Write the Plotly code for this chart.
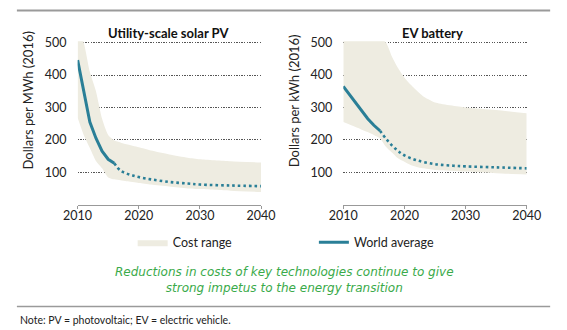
import plotly.graph_objects as go

# ---- Data ----
years_band_pv = [2010, 2011, 2012, 2013, 2014, 2015, 2016, 2017, 2018, 2020, 2022, 2025, 2028, 2030, 2035, 2040]
pv_upper = [540, 500, 410, 350, 265, 215, 198, 192, 186, 177, 167, 155, 145, 140, 134, 130]
pv_lower = [268, 215, 175, 135, 112, 84, 78, 75, 72, 67, 62, 56, 50, 48, 43, 39]

years_hist = [2010, 2011, 2012, 2013, 2014, 2015, 2016]
pv_hist = [446, 345, 255, 205, 165, 140, 128]
years_proj = [2016, 2017, 2018, 2019, 2020, 2022, 2025, 2028, 2030, 2035, 2040]
pv_proj = [128, 105, 96, 90, 85, 78, 70, 65, 62, 59, 57]

years_band_ev = [2010, 2012, 2014, 2015, 2016, 2017, 2018, 2019, 2020, 2021, 2022, 2023, 2025, 2030, 2035, 2040]
ev_upper = [520, 520, 520, 520, 515, 500, 455, 420, 392, 371, 352, 335, 315, 300, 292, 282]
ev_lower = [255, 240, 224, 215, 205, 178, 160, 142, 132, 122, 116, 112, 107, 102, 97, 93]

ev_hist = [365, 340, 315, 290, 265, 245, 228]
ev_proj = [228, 203, 182, 165, 152, 137, 125, 120, 118, 115, 112]

x_ticks = [2010, 2020, 2030, 2040]
y_ticks = [100, 200, 300, 400, 500]

BAND = "#EEECE1"
TEAL = "#2A7F97"
FONT = "Lato"

fig = go.Figure()

def add_panel(xa, ya, yb, lower, upper, hist, proj, show):
    fig.add_trace(go.Scatter(x=yb, y=lower, mode="lines",
                             line=dict(width=0, color=BAND, shape="spline", smoothing=0.6),
                             showlegend=False, hoverinfo="skip", xaxis=xa, yaxis=ya))
    fig.add_trace(go.Scatter(x=yb, y=upper, mode="lines",
                             line=dict(width=0, color=BAND, shape="spline", smoothing=0.6),
                             fill="tonexty", fillcolor=BAND, name="Cost range",
                             showlegend=show, legend="legend", xaxis=xa, yaxis=ya))
    fig.add_trace(go.Scatter(x=years_hist, y=hist, mode="lines", line=dict(width=3, color=TEAL),
                             name="World average", showlegend=show, legend="legend2",
                             xaxis=xa, yaxis=ya))
    fig.add_trace(go.Scatter(x=years_proj, y=proj, mode="lines",
                             line=dict(width=2.6, color=TEAL, dash="2.6px,3px", shape="spline"),
                             showlegend=False, xaxis=xa, yaxis=ya))

add_panel("x", "y", years_band_pv, pv_lower, pv_upper, pv_hist, pv_proj, True)
add_panel("x2", "y2", years_band_ev, ev_lower, ev_upper, ev_hist, ev_proj, False)

W, H = 567, 330
ydom = [1 - 202.3 / H, 1 - 36.0 / H]
xcommon = dict(range=[2010, 2040], tickvals=x_ticks, showgrid=False, zeroline=False,
               showline=True, linecolor="#999999", linewidth=1.2, ticks="outside",
               ticklen=3, tickcolor="#999999", tickwidth=1.2, ticklabelstandoff=-4,
               tickfont=dict(family=FONT, size=12.5, color="#222222"), fixedrange=True)
ycommon = dict(range=[0, 504], tickvals=y_ticks, domain=ydom, showgrid=True,
               gridcolor="#555555", griddash="1.3px,1.3px", gridwidth=1.3, zeroline=False,
               showline=False, ticks="", ticklabelstandoff=10,
               tickfont=dict(family=FONT, size=12.5, color="#222222"), fixedrange=True)

fig.update_layout(
    width=W, height=H, margin=dict(l=0, r=0, t=0, b=0),
    paper_bgcolor="white", plot_bgcolor="white",
    xaxis=dict(domain=[66 / W, 259.3 / W], anchor="y", **xcommon),
    yaxis=dict(anchor="x", **ycommon),
    xaxis2=dict(domain=[346 / W, 539.3 / W], anchor="y2", **xcommon),
    yaxis2=dict(anchor="x2", **ycommon),
    legend=dict(x=124 / W, y=1 - 241 / H, xanchor="left", yanchor="middle",
                orientation="h", itemwidth=30, bgcolor="rgba(0,0,0,0)",
                font=dict(family=FONT, size=12.5, color="#222222")),
    legend2=dict(x=315 / W, y=1 - 241 / H, xanchor="left", yanchor="middle",
                 orientation="h", itemwidth=30, bgcolor="rgba(0,0,0,0)",
                 font=dict(family=FONT, size=12.5, color="#222222")),
    showlegend=True,
)

annos = [
    dict(text="<b>Utility-scale solar PV</b>", x=162 / W, y=1 - 27 / H),
    dict(text="<b>EV battery</b>", x=440 / W, y=1 - 27 / H),
]
for a in annos:
    fig.add_annotation(xref="paper", yref="paper", xanchor="center", yanchor="middle",
                       showarrow=False, font=dict(family=FONT, size=13, color="#111111"), **a)

for txt, xpx in [("Dollars per MWh (2016)", 14), ("Dollars per kWh (2016)", 294)]:
    fig.add_annotation(text=txt, xref="paper", yref="paper", x=xpx / W, y=1 - 96 / H,
                       xanchor="center", yanchor="middle", textangle=-90, showarrow=False,
                       font=dict(family=FONT, size=13, color="#222222"))

fig.add_annotation(text="<i>Reductions in costs of key technologies continue to give<br>"
                        "strong impetus to the energy transition</i>",
                   xref="paper", yref="paper", x=284 / W, y=1 - 279.5 / H,
                   xanchor="center", yanchor="middle", showarrow=False, align="center",
                   font=dict(family="DejaVu Sans", size=12, color="#3AAA4A"))

fig.add_annotation(text="Note: PV = photovoltaic; EV = electric vehicle.",
                   xref="paper", yref="paper", x=3 / W, y=1 - 320 / H,
                   xanchor="left", yanchor="middle", showarrow=False,
                   font=dict(family=FONT, size=10.5, color="#222222"))

fig.add_shape(type="line", xref="paper", yref="paper", x0=2 / W, x1=564 / W,
              y0=1 - 4.7 / H, y1=1 - 4.7 / H, line=dict(color="#9a9a9a", width=2))
fig.add_shape(type="line", xref="paper", yref="paper", x0=2 / W, x1=564 / W,
              y0=1 - 306 / H, y1=1 - 306 / H, line=dict(color="#9a9a9a", width=1.5))

fig.write_html("out.html")
